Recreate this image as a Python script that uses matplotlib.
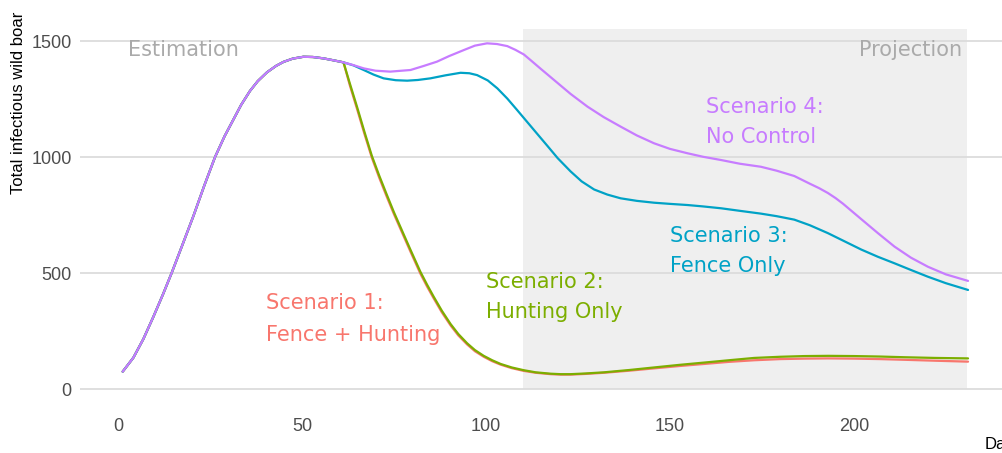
import numpy as np
import matplotlib
matplotlib.use("Agg")
from matplotlib import pyplot as plt

# curva comum (fase de estimacao) - igual para todos os cenarios
dia_comum = [1.3, 4.2, 6.9, 9.6, 12.3, 14.6, 17.5, 20.5, 23.5, 26.4, 29, 31.4,
             33.5, 35.9, 38, 40.5, 43, 45.0, 47.5, 50.4, 53, 55.9, 58.5, 61.3]
val_comum = [75, 135, 215, 310, 410, 500, 620, 745, 878, 1000, 1090, 1162,
             1225, 1285, 1327, 1365, 1393, 1410, 1424, 1432, 1431, 1425, 1417, 1408]

# cenario 4: sem controle
dia_c4 = [64, 66.8, 70, 74, 79.5, 83, 86.7, 90, 94, 97, 100.3, 103, 105.8, 108,
          110.3, 112.1, 114.9, 118.5, 123, 127.6, 132, 136.6, 141, 145.7, 150,
          154.8, 159, 163.9, 169, 174.7, 179, 183.8, 188, 190.5, 192.9, 195,
          197, 202, 206.5, 211, 215.5, 220.1, 225, 231]
val_c4 = [1396, 1382, 1372, 1368, 1375, 1392, 1411, 1435, 1461, 1480, 1490,
          1487, 1478, 1462, 1442, 1418, 1380, 1332, 1272, 1217, 1172, 1131,
          1093, 1059, 1035, 1016, 1001, 987, 971, 958, 941, 918, 885, 866, 845,
          823, 799, 732, 672, 614, 566, 527, 494, 466]

# cenario 3: so cerca
dia_c3 = [64, 66.8, 69.5, 72.2, 75.5, 78.6, 81.5, 84.9, 89, 93.1, 95.5, 97.6,
          100.5, 103.1, 105.8, 108.5, 111, 113.5, 116.7, 119.5, 123, 126, 129.4,
          133, 136.6, 141, 145.7, 150, 154.8, 159, 163.9, 169, 174.7, 179,
          183.8, 188, 192.9, 197, 202, 206.5, 211, 215.5, 220.1, 225, 231]
val_c3 = [1395, 1375, 1355, 1339, 1331, 1329, 1332, 1339, 1352, 1363, 1361,
          1353, 1330, 1296, 1252, 1202, 1155, 1108, 1048, 995, 938, 895, 860,
          838, 822, 811, 803, 798, 793, 787, 779, 768, 756, 745, 730, 706, 672,
          640, 601, 570, 542, 513, 484, 456, 427]

# cenario 2: so caca
dia_c2 = [63, 65, 67, 69, 71, 73, 75, 77, 79.5, 82.2, 84, 85.8, 88,
          90.4, 92.5, 94.9, 97, 99.4, 101.7, 104, 107, 110.3, 113.5, 117.6,
          120.3, 123, 127, 132.1, 139, 145.7, 152.5, 159.3, 166, 172.9, 180,
          186.5, 193, 200.1, 207, 213.7, 222, 231]
val_c2 = [1318, 1215, 1108, 1005, 920, 840, 762, 690, 600, 505, 450, 398, 338,
          280, 237, 197, 168, 143, 124, 108, 93, 81, 72, 66, 64, 64, 67, 72,
          82, 93, 104, 114, 124, 134, 139, 142, 143, 142, 140, 137, 134, 132]

# cenario 1: cerca + caca
dia_c1 = dia_c2
val_c1 = [1310, 1206, 1099, 997, 911, 831, 754, 682, 592, 497, 442, 391, 331,
          274, 231, 192, 163, 139, 120, 105, 90, 78, 70, 64, 62, 62, 65, 70,
          79, 89, 99, 108, 117, 124, 129, 131, 132, 131, 129, 126, 122, 118]

cores = {"c1": "#F8766D", "c2": "#7CAE00", "c3": "#00A2C6", "c4": "#C77CFF"}

fig = plt.figure(figsize=(10.03, 4.53), dpi=100)
ax = fig.add_axes([80/1003, 1 - 398.3/453, 923/1003, 380.5/453])

# area de projecao
ax.fill_between([110, 230.7], 0, 1552, color="#efefef", lw=0, zorder=0.5)

estilo = dict(lw=1.6, solid_joinstyle="round", solid_capstyle="round")
ax.plot(dia_comum + dia_c1, val_comum + val_c1, color=cores["c1"], **estilo)
ax.plot(dia_comum + dia_c2, val_comum + val_c2, color=cores["c2"], **estilo)
ax.plot(dia_comum + dia_c3, val_comum + val_c3, color=cores["c3"], **estilo)
ax.plot(dia_comum + dia_c4, val_comum + val_c4, color=cores["c4"], **estilo)

ax.set_xlim(-10.3, 240.5)
ax.set_ylim(-40, 1600)
ax.set_xticks([0, 50, 100, 150, 200])
ax.set_yticks([0, 500, 1000, 1500])
ax.grid(axis="y", color="#dcdcdc", lw=1.3)
ax.grid(axis="x", visible=False)
for s in ax.spines.values():
    s.set_visible(False)
ax.tick_params(length=0, labelsize=13, labelcolor="#4d4d4d")
ax.tick_params(axis="y", pad=6)
ax.tick_params(axis="x", pad=14)
for lab in ax.get_xticklabels() + ax.get_yticklabels():
    lab.set_family("Liberation Sans")

ax.text(2.7, 1461, "Estimation", color="#aaaaaa", fontsize=15, va="center")
ax.text(229.3, 1461, "Projection", color="#aaaaaa", fontsize=15, va="center", ha="right")
ax.text(40.2, 302, "Scenario 1:\nFence + Hunting", color=cores["c1"], fontsize=15,
        va="center", linespacing=1.72)
ax.text(100, 397, "Scenario 2:\nHunting Only", color=cores["c2"], fontsize=15,
        va="center", linespacing=1.65)
ax.text(150, 595, "Scenario 3:\nFence Only", color=cores["c3"], fontsize=15,
        va="center", linespacing=1.65)
ax.text(159.8, 1151, "Scenario 4:\nNo Control", color=cores["c4"], fontsize=15,
        va="center", linespacing=1.65)

fig.text(19/1003, 1 - 12/453, "Total infectious wild boar", rotation=90,
         va="top", ha="center", fontsize=12,
         family=["Liberation Sans Narrow", "Liberation Sans"])
fig.text(985/1003, 1 - 444/453, "Day", va="center", ha="left", fontsize=12,
         family=["Liberation Sans Narrow", "Liberation Sans"])

plt.savefig("out.png", dpi=100)
